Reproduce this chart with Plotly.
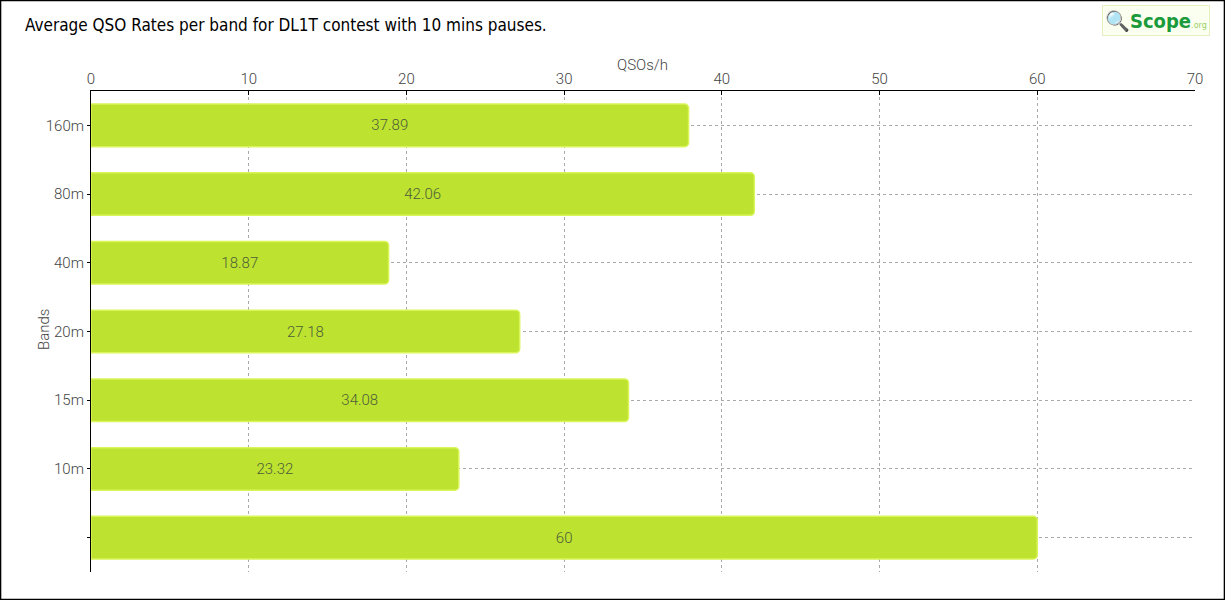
import plotly.graph_objects as go

bands = ["160m", "80m", "40m", "20m", "15m", "10m", " "]
rates = [37.89, 42.06, 18.87, 27.18, 34.08, 23.32, 60]
labels = ["37.89", "42.06", "18.87", "27.18", "34.08", "23.32", "60"]
xticks = [0, 10, 20, 30, 40, 50, 60, 70]

W, H = 1225, 600
L, R, T, B = 91, 30, 91, 28
FONT = "DejaVu Sans Condensed, Roboto, sans-serif"
LIGHT = "Roboto, sans-serif"

fig = go.Figure(go.Bar(
    y=bands, x=rates, orientation="h",
    text=labels, textposition="inside", insidetextanchor="middle",
    textfont=dict(color="#4d5e3a", size=15, family=LIGHT, weight=300),
    marker=dict(color="#bde22f", line=dict(color="#d9f55a", width=1.5)),
    width=0.62, cliponaxis=False,
))

pw, ph = W - L - R, H - T - B
fig.add_shape(type="rect", xref="paper", yref="paper",
              x0=-L / pw + 0.0005, x1=1 + R / pw - 0.0005,
              y0=-B / ph + 0.001, y1=1 + T / ph - 0.001,
              line=dict(color="black", width=1.5), layer="above")

fig.update_layout(
    width=W, height=H,
    margin=dict(l=L, r=R, t=T, b=B),
    paper_bgcolor="white", plot_bgcolor="white",
    showlegend=False,
    barcornerradius=4,
    font=dict(family=LIGHT, color="#444"),
    title=dict(text="Average QSO Rates per band for DL1T contest with 10 mins pauses.",
               x=25 / W, xanchor="left", y=1 - 25 / H, yanchor="middle",
               font=dict(size=17, color="black", family=FONT)),
    xaxis=dict(side="top", range=[0, 70], tickvals=xticks,
               showline=True, linecolor="black", linewidth=1,
               ticks="inside", ticklen=4, tickcolor="black",
               showgrid=True, gridcolor="#aaaaaa", griddash="3px,3px", gridwidth=1,
               zeroline=False,
               tickfont=dict(size=15, color="#444", family=LIGHT, weight=300)),
    yaxis=dict(categoryorder="array", categoryarray=bands, autorange="reversed",
               showline=True, linecolor="black", linewidth=1,
               ticks="outside", ticklen=3, tickcolor="black",
               showgrid=True, gridcolor="#aaaaaa", griddash="3px,3px", gridwidth=1,
               tickfont=dict(size=15, color="#444", family=LIGHT, weight=300)),
)

fig.add_annotation(xref="paper", yref="paper",
                   x=0.5 + (642 - 643) / pw, y=1 + (91 - 65) / ph,
                   xanchor="center", yanchor="middle", showarrow=False,
                   text="QSOs/h",
                   font=dict(size=15, color="#444", family=LIGHT, weight=300))

fig.add_annotation(xref="paper", yref="paper",
                   x=(44 - L) / pw, y=1 - (330 - T) / ph,
                   xanchor="center", yanchor="middle", showarrow=False,
                   text="Bands", textangle=-90,
                   font=dict(size=15, color="#444", family=LIGHT, weight=300))

fig.add_annotation(xref="paper", yref="paper",
                   x=1 + (1210 - 1195) / pw, y=1 + (91 - 21) / ph,
                   xanchor="right", yanchor="middle",
                   text="<b>🔍Scope</b><span style='font-size:9px;color:#9bd06a'>.org</span>",
                   showarrow=False,
                   font=dict(size=20, color="#1a9a3a", family="DejaVu Sans Condensed, sans-serif"),
                   bgcolor="#fbfff0", bordercolor="#e5f0c0", borderwidth=1, borderpad=2)

fig.write_html("out.html", config={"displayModeBar": False},
               post_script="document.body.style.margin='0';document.body.style.padding='0';")
